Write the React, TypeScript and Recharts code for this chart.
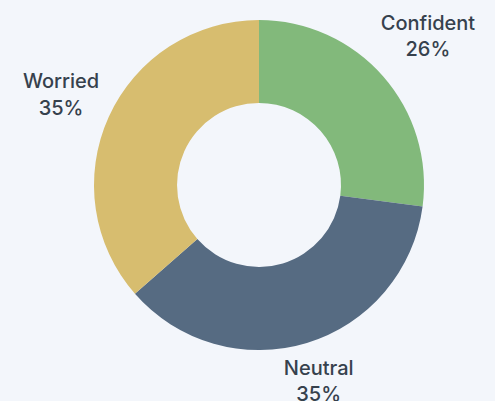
import React from "react";
import { PieChart, Pie, Cell } from "recharts";

const categories = ["Confident", "Neutral", "Worried"];
const values = [26, 35, 35];
const colors = ["#82b97b", "#566b82", "#d7bd6f"];

const data = categories.map((name, i) => ({ name, value: values[i] }));

const RAD = Math.PI / 180;

const renderLabel = (props: any) => {
  const { cx, cy, midAngle, outerRadius, name, value } = props;
  const c = Math.cos(midAngle * RAD);
  const s = Math.sin(midAngle * RAD);
  const w = String(name).length * 10.8;
  const h = 43;
  const d = outerRadius + 9 + Math.abs(c) * w / 2 + Math.abs(s) * h / 2;
  const x = cx + d * c;
  const y = cy - d * s;
  const first = y - 7;
  return (
    <text
      x={x}
      y={first}
      textAnchor="middle"
      fill="#36414d"
      style={{ fontFamily: "Inter, 'Open Sans', sans-serif", fontSize: 20, fontWeight: 500 }}
    >
      <tspan x={x} y={first}>{name}</tspan>
      <tspan x={x} y={first + 26.5}>{`${value}%`}</tspan>
    </text>
  );
};

export default function App() {
  return (
    <div
      style={{
        position: "fixed",
        left: 0,
        top: 0,
        width: 495,
        height: 401,
        background: "#f3f6fb",
      }}
    >
      <PieChart width={495} height={401} margin={{ top: 0, right: 0, bottom: 0, left: 0 }}>
        <Pie
          data={data}
          dataKey="value"
          nameKey="name"
          cx={259}
          cy={185}
          innerRadius={82}
          outerRadius={165}
          startAngle={90}
          endAngle={-270}
          stroke="none"
          label={renderLabel}
          labelLine={false}
          isAnimationActive={false}
        >
          {data.map((d, i) => (
            <Cell key={d.name} fill={colors[i]} />
          ))}
        </Pie>
      </PieChart>
    </div>
  );
}
